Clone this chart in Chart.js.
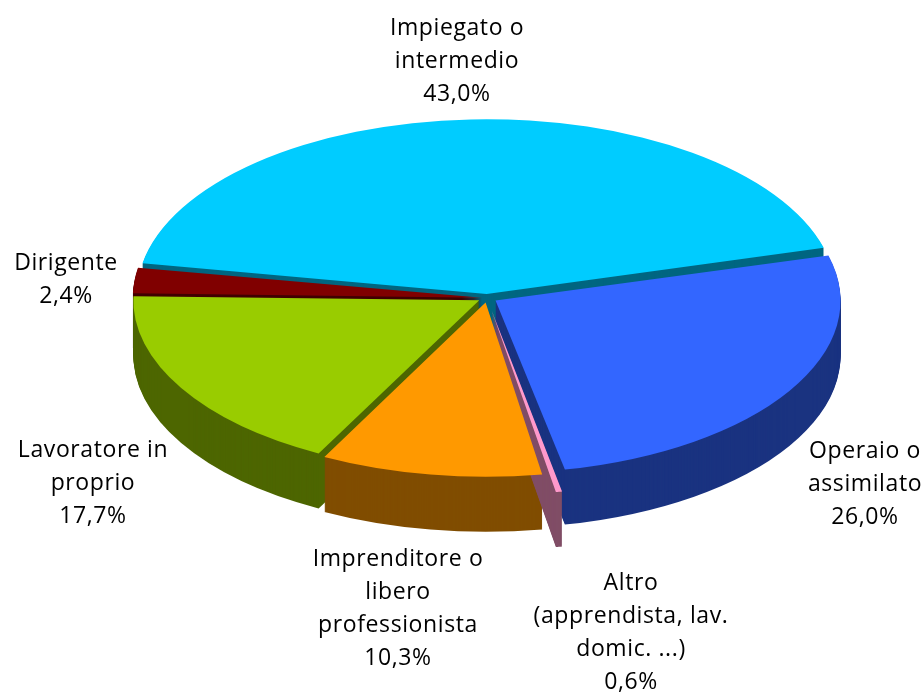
<!DOCTYPE html>
<html>
<head>
<meta charset="utf-8">
<script src="https://cdn.jsdelivr.net/npm/chart.js@4.4.0/dist/chart.umd.min.js"></script>
<style>
  html, body { margin: 0; padding: 0; background: #fff; }
  #wrap { width: 924px; height: 693px; position: relative; }
</style>
</head>
<body>
<div id="wrap"><canvas id="pie3d"></canvas></div>
<script>
// data, clockwise from the top
var categories = [
    ['Impiegato o', 'intermedio'],
    ['Operaio o', 'assimilato'],
    ['Altro', '(apprendista, lav.', 'domic. ...)'],
    ['Imprenditore o', 'libero', 'professionista'],
    ['Lavoratore in', 'proprio'],
    ['Dirigente']
];
var shares = [43.0, 26.0, 0.6, 10.3, 17.7, 2.4];

// styles
var topColors  = ['#00CCFF', '#3366FF', '#FF99CC', '#FF9900', '#99CC00', '#800000'];
var sideColors = ['#006680', '#1A3380', '#804D66', '#804D00', '#4D6600', '#400000'];
var explode    = [32, 40, 100, 36, 36, 20];
var labelPos   = [[457, 28], [865, 451], [631, 583], [398, 559], [93, 450], [66, 263]];
var tilt = 0.5;     // vertical squash of the pie
var depth = 55;     // wall height in px
var lineH = 33;

var fmt = function(v) { return v.toFixed(1).replace('.', ',') + '%'; };

var pie3d = {
    id: 'pie3d',
    beforeDatasetsDraw: function(chart) {
        var ctx = chart.ctx;
        var arcs = chart.getDatasetMeta(0).data;
        var cy = arcs[0].y;
        ctx.save();
        ctx.translate(0, cy);
        ctx.scale(1, tilt);
        ctx.translate(0, -cy);

        // walls, back slices first
        var order = arcs.map(function(a, i) { return i; });
        order.sort(function(i, j) {
            var ai = arcs[i], aj = arcs[j];
            var yi = Math.sin((ai.startAngle + ai.endAngle) / 2) * (ai.outerRadius / 2 + explode[i]);
            var yj = Math.sin((aj.startAngle + aj.endAngle) / 2) * (aj.outerRadius / 2 + explode[j]);
            return yi - yj;
        });
        order.forEach(function(i) {
            var a = arcs[i];
            var side = Object.create(a);
            side.options = Object.assign({}, a.options, {
                backgroundColor: sideColors[i], borderColor: sideColors[i], borderWidth: 0
            });
            for (var d = depth; d >= 1; d--) {
                ctx.save();
                ctx.translate(0, d / tilt);
                a.draw.call(side, ctx);
                ctx.restore();
            }
        });
    },
    afterDatasetsDraw: function(chart) {
        var ctx = chart.ctx;
        ctx.restore();

        ctx.save();
        ctx.fillStyle = '#000';
        ctx.font = '23px "Open Sans", sans-serif';
        ctx.letterSpacing = '0.6px';
        ctx.textAlign = 'center';
        ctx.textBaseline = 'middle';
        categories.forEach(function(lines, i) {
            var all = lines.concat([fmt(shares[i])]);
            all.forEach(function(t, k) {
                ctx.fillText(t, labelPos[i][0], labelPos[i][1] + k * lineH);
            });
        });
        ctx.restore();
    }
};

new Chart(document.getElementById('pie3d'), {
    type: 'pie',
    data: {
        labels: categories,
        datasets: [{
            data: shares,
            backgroundColor: topColors,
            borderColor: topColors,
            borderWidth: 0,
            offset: explode,
            clip: false
        }]
    },
    options: {
        responsive: true,
        maintainAspectRatio: false,
        animation: false,
        events: [],
        rotation: -80,
        radius: 345,
        layout: { padding: { left: 50, right: 0, top: 0, bottom: 97 } },
        plugins: {
            legend: { display: false },
            tooltip: { enabled: false }
        }
    },
    plugins: [pie3d]
});
</script>
</body>
</html>
